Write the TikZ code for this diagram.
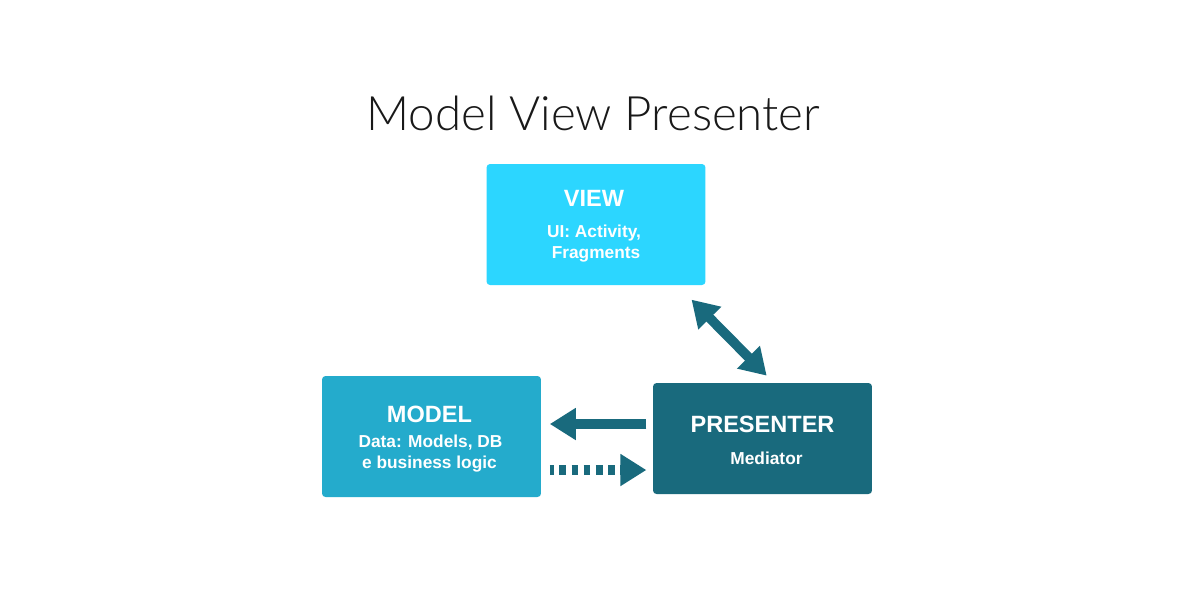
\documentclass[tikz,border=0pt]{standalone}
\usepackage{fontspec}
\setmainfont{Liberation Sans}
\newfontfamily\titlefont{Lato}[UprightFont={* Light}]
\usetikzlibrary{arrows.meta, calc}

\definecolor{viewblue}{RGB}{44,214,255}
\definecolor{modelblue}{RGB}{36,171,204}
\definecolor{presenterblue}{RGB}{25,106,125}

\tikzset{
    box/.style={rectangle, rounded corners=2pt, minimum width=4.38cm, minimum height=2.42cm, inner sep=0pt},
    head/.style={anchor=base, inner sep=0pt, text=white, font=\bfseries\fontsize{13.4}{16}\selectfont},
    sub/.style={anchor=base, inner sep=0pt, text=white, font=\bfseries\fontsize{9.85}{12}\selectfont},
    link/.style={draw=presenterblue, line width=0.194cm},
    bigtip/.tip={Triangle[length=0.52cm, width=0.61cm]}
}

\begin{document}
\begin{tikzpicture}[x=0.02cm, y=-0.02cm]
        \useasboundingbox[fill=white] (0,0) rectangle (1200,600);

        % Title
        \node[anchor=base, inner sep=0pt, text=black!90, font=\titlefont\fontsize{27}{32}\selectfont] (title) at (593.3,130) {Model View Presenter};

        % Nodes
        \node[box, fill=viewblue] (view) at (596,224.5) {};
        \node[box, fill=modelblue] (model) at (431.5,436.5) {};
        \node[box, fill=presenterblue, minimum height=2.22cm] (presenter) at (762.5,438.5) {};

        % Labels
        \node[head] (viewhead) at ($(view.north)+(-2,42.7)$) {VIEW};
        \node[sub] (viewline1) at ($(view.north)+(-2,73.7)$) {UI: Activity,};
        \node[sub] (viewline2) at ($(view.north)+(0,95.3)$) {Fragments};
        \node[head] (modelhead) at ($(model.north)+(-2,46.7)$) {MODEL};
        \node[sub] (modelline1) at ($(model.north)+(-1,71.7)$) {Data: Models, DB};
        \node[sub] (modelline2) at ($(model.north)+(-2,93.3)$) {e business logic};
        \node[head] (presenterhead) at ($(presenter.north)+(0,50.3)$) {PRESENTER};
        \node[sub] (presenterline) at ($(presenter.north)+(4,82)$) {Mediator};

        % Lines
        \draw[link, bigtip-bigtip] ($(view.south east)+(-14.3,14.3)$) -- ($(presenter.north)+(4.2,-7)$);
        \draw[link, -bigtip] ($(presenter.west)+(-6.3,-14.5)$) -- ($(model.east)+(8.5,-12.5)$);
        \draw[link, -bigtip, dash pattern=on 0.134cm off 0.11cm, dash phase=0.054cm] ($(model.east)+(8.5,33.5)$) -- ($(presenter.west)+(-6.3,31.5)$);
    \end{tikzpicture}
\end{document}
